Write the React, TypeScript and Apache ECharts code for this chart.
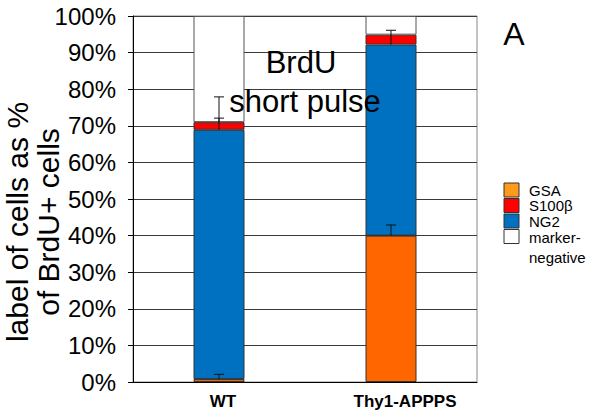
import React, { useEffect, useRef } from "react";
import * as echarts from "echarts";

const categories = ["WT", "Thy1-APPPS"];
const gsa = [0.8, 40.0];
const ng2 = [68.1, 52.2];
const s100b = [2.1, 2.7];
const markerNegative = [29.0, 5.1];
const yTicks = [0, 10, 20, 30, 40, 50, 60, 70, 80, 90, 100];

// error bars: category index, base value, upper value
const errCat = [0, 0, 0, 1, 1];
const errLow = [0.8, 68.9, 71.0, 40.0, 92.2];
const errHigh = [2.1, 72.1, 77.9, 42.9, 96.1];

const legendNames = ["GSA", "S100β", "NG2", "marker-\nnegative"];
const legendColors = ["#FF9A1A", "#FF0000", "#0070C0", "#FFFFFF"];

const FONT = "Liberation Sans, Arial, sans-serif";

export default function App() {
  const ref = useRef<HTMLDivElement>(null);
  useEffect(() => {
    if (!ref.current) return;
    const chart = echarts.init(ref.current, undefined, { renderer: "svg" });
    const errData = errCat.map((c, i) => [c, errLow[i], errHigh[i]]);
    const barBase = {
      type: "bar",
      stack: "total",
      barWidth: 51,
    };
    const legendGraphics: any[] = [];
    const legendTop = [183, 198.5, 214, 229.5];
    legendNames.forEach((n, i) => {
      legendGraphics.push({
        type: "rect",
        shape: { x: 504, y: legendTop[i], width: 15, height: 14 },
        style: { fill: legendColors[i], stroke: "#333", lineWidth: 1 },
        z: 100,
      });
      legendGraphics.push({
        type: "text",
        x: 529,
        y: legendTop[i] + 7,
        style: {
          text: n,
          fill: "#000",
          font: `15px ${FONT}`,
          textVerticalAlign: "middle",
          lineHeight: 20,
        },
        z: 100,
      });
    });
    legendGraphics[legendGraphics.length - 1].y = legendTop[3] - 2;
    legendGraphics[legendGraphics.length - 1].style.textVerticalAlign = "top";

    chart.setOption({
      animation: false,
      textStyle: { fontFamily: FONT },
      grid: {
        left: 133,
        right: 117,
        top: 16,
        bottom: 29,
        show: true,
        borderColor: "#888",
        borderWidth: 1,
      },
      xAxis: {
        type: "category",
        data: categories,
        axisLine: { lineStyle: { color: "#000", width: 1 } },
        axisTick: { show: false },
        axisLabel: {
          color: "#000",
          fontWeight: "bold",
          fontSize: 17,
          margin: 11,
          formatter: (v: string, i: number) => (i === 0 ? `{a|${v}}` : `{b|${v}}`),
          rich: {
            a: { fontWeight: "bold", fontSize: 17, color: "#000", padding: [0, 0, 0, 8] },
            b: { fontWeight: "bold", fontSize: 17, color: "#000", padding: [0, 0, 0, 28] },
          },
        },
      },
      yAxis: {
        type: "value",
        min: yTicks[0],
        max: yTicks[yTicks.length - 1],
        interval: 10,
        axisLine: { show: true, lineStyle: { color: "#000", width: 1 } },
        axisTick: { show: true, length: 5, lineStyle: { color: "#000" } },
        axisLabel: {
          color: "#000",
          fontSize: 24,
          margin: 17,
          formatter: "{value}%",
        },
        splitLine: { show: true, lineStyle: { color: "#3a3a3a", width: 1 } },
      },
      series: [
        {
          ...barBase,
          name: "GSA",
          data: gsa,
          itemStyle: { color: "#FF6600", borderColor: "#333", borderWidth: 1 },
        },
        {
          ...barBase,
          name: "NG2",
          data: ng2,
          itemStyle: { color: "#0070C0", borderColor: "#333", borderWidth: 1 },
        },
        {
          ...barBase,
          name: "S100β",
          data: s100b,
          itemStyle: { color: "#FF0000", borderColor: "#333", borderWidth: 1 },
        },
        {
          ...barBase,
          name: "marker-negative",
          data: markerNegative,
          itemStyle: { color: "#FFFFFF", borderColor: "#555", borderWidth: 1 },
        },
        {
          type: "custom",
          name: "error",
          z: 10,
          data: errData,
          encode: { x: 0, y: [1, 2] },
          renderItem: (params: any, api: any) => {
            const c = api.value(0);
            const lo = api.coord([c, api.value(1)]);
            const hi = api.coord([c, api.value(2)]);
            const half = 5;
            return {
              type: "group",
              children: [
                {
                  type: "line",
                  shape: { x1: lo[0], y1: lo[1], x2: hi[0], y2: hi[1] },
                  style: { stroke: "#111", lineWidth: 1 },
                },
                {
                  type: "line",
                  shape: { x1: hi[0] - half, y1: hi[1], x2: hi[0] + half, y2: hi[1] },
                  style: { stroke: "#111", lineWidth: 1 },
                },
              ],
            };
          },
        },
      ],
      graphic: [
        {
          type: "text",
          x: 33,
          y: 222,
          rotation: Math.PI / 2,
          style: {
            text: "label of cells as %\nof BrdU+ cells",
            fill: "#000",
            font: `30px ${FONT}`,
            textAlign: "center",
            textVerticalAlign: "middle",
            lineHeight: 31,
          },
          z: 100,
        },
        {
          type: "text",
          x: 301,
          y: 62,
          style: {
            text: "BrdU",
            fill: "#000",
            font: `31px ${FONT}`,
            textAlign: "center",
            textVerticalAlign: "middle",
          },
          z: 100,
        },
        {
          type: "text",
          x: 305,
          y: 101,
          style: {
            text: "short pulse",
            fill: "#000",
            font: `31px ${FONT}`,
            textAlign: "center",
            textVerticalAlign: "middle",
          },
          z: 100,
        },
        {
          type: "text",
          x: 514,
          y: 34,
          style: {
            text: "A",
            fill: "#000",
            font: `32px ${FONT}`,
            textAlign: "center",
            textVerticalAlign: "middle",
          },
          z: 100,
        },
        ...legendGraphics,
      ],
    });
    return () => chart.dispose();
  }, []);
  return (
    <div
      ref={ref}
      style={{ position: "absolute", left: 0, top: 0, width: 594, height: 411 }}
    />
  );
}
